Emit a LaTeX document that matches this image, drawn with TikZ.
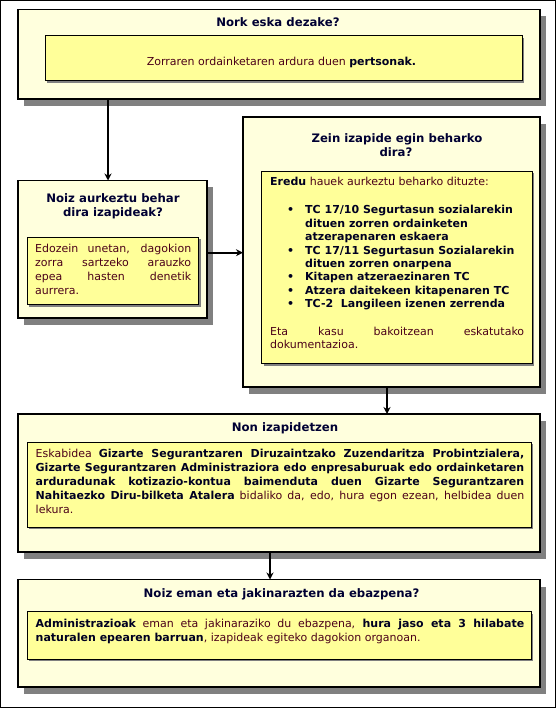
\documentclass[tikz,border=0pt]{standalone}
\usepackage{fontspec}
\setmainfont{DejaVu Sans}
\usetikzlibrary{arrows.meta,shadows}
\definecolor{outerfill}{HTML}{FFFFDD}
\definecolor{innerfill}{HTML}{FFFF99}
\definecolor{shadowgray}{HTML}{808080}
\definecolor{titlecol}{HTML}{000033}
\definecolor{bodycol}{HTML}{4B0019}
\definecolor{boldcol}{HTML}{000022}
\newcommand\bt[1]{{\bfseries\color{boldcol}#1}}
\newcommand\jl[2]{\hbox to #1pt{#2}}
\newcommand\nl[1]{\hbox{#1}}
\newcommand\bul{\makebox[18pt][l]{•}}
\begin{document}
\begin{tikzpicture}[x=1pt,y=-1pt,
 outerbox/.style={draw=black,line width=1.2pt,fill=outerfill,anchor=north west,inner sep=0pt,outer sep=0pt,
   drop shadow={shadow xshift=6pt,shadow yshift=-7pt,fill=shadowgray,opacity=1}},
 innerbox/.style={draw=black,line width=1pt,fill=innerfill,anchor=north west,inner sep=0pt,outer sep=0pt,
   drop shadow={shadow xshift=2pt,shadow yshift=-2pt,fill=shadowgray,opacity=1}},
 titletext/.style={anchor=base,inner sep=0pt,font=\fontsize{11.7}{14}\selectfont\bfseries,text=titlecol},
 bodytext/.style={anchor=base west,inner sep=0pt,font=\fontsize{11}{13.7}\selectfont,text=bodycol},
 boldbody/.style={bodytext,font=\fontsize{11}{13.4}\selectfont\bfseries,text=boldcol},
 arr/.style={line width=1.8pt,-{Stealth[length=7pt,width=7pt]}}]
\useasboundingbox (0,0) rectangle (556,708);
\draw[line width=1.2pt] (0.6,0.6) rectangle (555.4,707.4);

% box 1
\node[outerbox,minimum width=522pt,minimum height=89.5pt] (b1) at (18,9.5) {};
\node[innerbox,minimum width=477pt,minimum height=45pt] (i1) at (45,36) {};
\node[titletext] (h1) at (278,26.5) {Nork eska dezake?};
\node[bodytext,anchor=base] (t1) at (281.5,65.5) {Zorraren ordainketaren ardura duen \bt{pertsonak.}};

% box 2
\node[outerbox,minimum width=189pt,minimum height=137.5pt] (b2) at (18,180.5) {};
\node[innerbox,minimum width=171.5pt,minimum height=67pt] (i2) at (27,237.5) {};
\node[titletext] (h2a) at (113,203) {Noiz aurkeztu behar};
\node[titletext] (h2b) at (113,217) {dira izapideak?};
\node[bodytext] (t2) at (35,253) {\vtop{\baselineskip=13.7pt\lineskiplimit=-100pt
 \jl{156}{Edozein unetan, dagokion}
 \jl{156}{zorra sartzeko arauzko}
 \jl{156}{epea hasten denetik}
 \nl{aurrera.}}};

% box 3
\node[outerbox,minimum width=297pt,minimum height=270pt] (b3) at (243,117) {};
\node[innerbox,minimum width=270.5pt,minimum height=192pt] (i3) at (261.5,171.5) {};
\node[titletext] (h3a) at (397,143) {Zein izapide egin beharko};
\node[titletext] (h3b) at (396,157) {dira?};
\node[bodytext] (t3a) at (270,186) {\bt{Eredu} hauek aurkeztu beharko dituzte:};
\node[boldbody] (t3b) at (287,214) {\vtop{\baselineskip=13.4pt\lineskiplimit=-100pt
 \nl{\bul TC 17/10 Segurtasun sozialarekin}
 \nl{\hphantom{\bul}dituen zorren ordainketen}
 \nl{\hphantom{\bul}atzerapenaren eskaera}
 \nl{\bul TC 17/11 Segurtasun Sozialarekin}
 \nl{\hphantom{\bul}dituen zorren onarpena}
 \nl{\bul Kitapen atzeraezinaren TC}
 \nl{\bul Atzera daitekeen kitapenaren TC}
 \nl{\bul TC-2~ Langileen izenen zerrenda}}};
\node[bodytext] (t3c) at (270,335) {\vtop{\baselineskip=13.4pt\lineskiplimit=-100pt
 \jl{254}{Eta kasu bakoitzean eskatutako}
 \nl{dokumentazioa.}}};

% box 4
\node[outerbox,minimum width=522pt,minimum height=138pt] (b4) at (18,414) {};
\node[innerbox,minimum width=504pt,minimum height=85pt] (i4) at (27,442) {};
\node[titletext] (h4) at (285,431) {Non izapidetzen};
\node[bodytext] (t4) at (35.5,457) {\vtop{\baselineskip=14pt\lineskiplimit=-100pt
 \jl{488.5}{Eskabidea \bt{Gizarte Segurantzaren Diruzaintzako Zuzendaritza Probintzialera,}}
 \jl{488.5}{\bt{Gizarte Segurantzaren Administraziora edo enpresaburuak edo ordainketaren}}
 \jl{488.5}{\bt{arduradunak kotizazio-kontua baimenduta duen Gizarte Segurantzaren}}
 \jl{488.5}{\bt{Nahitaezko Diru-bilketa Atalera} bidaliko da, edo, hura egon ezean, helbidea duen}
 \nl{lekura.}}};

% box 5
\node[outerbox,minimum width=522pt,minimum height=107.5pt] (b5) at (18,579.5) {};
\node[innerbox,minimum width=504pt,minimum height=47.5pt] (i5) at (27,611.5) {};
\node[titletext] (h5) at (281.5,597) {Noiz eman eta jakinarazten da ebazpena?};
\node[bodytext] (t5) at (35.5,627.5) {\vtop{\baselineskip=14pt\lineskiplimit=-100pt
 \jl{488.5}{\bt{Administrazioak} eman eta jakinaraziko du ebazpena, \bt{hura jaso eta 3 hilabate}}
 \nl{\bt{naturalen epearen barruan}, izapideak egiteko dagokion organoan.}}};

% connectors
\coordinate (a1) at (108,99);
\draw[arr] (a1) -- (a1 |- b2.north);
\coordinate (a2) at (207,252.7);
\draw[arr] (a2) -- (a2 -| b3.west);
\coordinate (a3) at (387,387);
\draw[arr] (a3) -- (a3 |- b4.north);
\coordinate (a4) at (270,552);
\draw[arr] (a4) -- (a4 |- b5.north);
\end{tikzpicture}
\end{document}
